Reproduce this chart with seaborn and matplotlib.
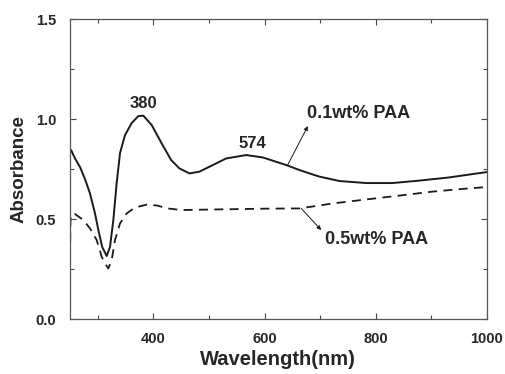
import matplotlib
matplotlib.use("Agg")
import matplotlib.pyplot as plt
import seaborn as sns
import pandas as pd
from matplotlib.ticker import MultipleLocator, FormatStrFormatter

# 0.1 wt% PAA (solid)
wl_01 = [250, 252, 259, 268, 277, 286, 295, 301, 308, 316, 322, 328, 334, 340, 349,
         361, 373, 382, 397, 415, 432, 447, 465, 483, 507, 531, 567, 597, 639, 663,
         681, 699, 714, 735, 783, 830, 878, 932, 1000]
abs_01 = [0.84, 0.845, 0.803, 0.76, 0.70, 0.628, 0.528, 0.445, 0.36, 0.315, 0.36,
          0.495, 0.68, 0.83, 0.92, 0.98, 1.015, 1.017, 0.97, 0.878, 0.795, 0.753,
          0.728, 0.737, 0.77, 0.803, 0.82, 0.808, 0.77, 0.745, 0.728, 0.712, 0.703,
          0.69, 0.68, 0.68, 0.692, 0.708, 0.735]

# 0.5 wt% PAA (dashed)
wl_05 = [250, 251, 259, 274, 286, 298, 307, 313, 319, 325, 331, 340, 352, 367, 388,
         406, 426, 450, 513, 603, 663, 723, 783, 842, 902, 962, 1000]
abs_05 = [0.31, 0.52, 0.525, 0.495, 0.453, 0.395, 0.312, 0.278, 0.253, 0.295, 0.395,
          0.478, 0.528, 0.558, 0.572, 0.568, 0.553, 0.545, 0.548, 0.552, 0.553, 0.578,
          0.598, 0.617, 0.637, 0.652, 0.66]

sns.set_style("ticks")
plt.rcParams["font.family"] = ["Liberation Sans", "DejaVu Sans"]
plt.rcParams["font.weight"] = "bold"

df1 = pd.DataFrame({"wl": wl_01, "A": abs_01})
df5 = pd.DataFrame({"wl": wl_05, "A": abs_05})

fig = plt.figure(figsize=(5.05, 3.74), dpi=100)
ax = fig.add_axes([0.1386, 0.147, 0.8254, 0.802])

sns.lineplot(data=df1, x="wl", y="A", ax=ax, color="#1a1a1a", linewidth=1.4)
sns.lineplot(data=df5, x="wl", y="A", ax=ax, color="#1a1a1a", linewidth=1.3,
             linestyle=(0, (5, 3.5)))

ax.set_xlim(250, 1000)
ax.set_ylim(0, 1.5)
ax.set_xticks([400, 600, 800, 1000])
ax.xaxis.set_minor_locator(MultipleLocator(100))
ax.yaxis.set_major_locator(MultipleLocator(0.5))
ax.yaxis.set_minor_locator(MultipleLocator(0.25))
ax.yaxis.set_major_formatter(FormatStrFormatter("%.1f"))
ax.tick_params(which="both", direction="in", top=True, right=True, color="#444444",
               labelsize=10.5, width=0.8)
ax.tick_params(which="major", length=4)
ax.tick_params(which="minor", length=3)
ax.tick_params(axis="y", pad=10)
ax.tick_params(axis="x", pad=9)
for s in ax.spines.values():
    s.set_color("#555555")
    s.set_linewidth(0.9)

ax.set_xlabel("Wavelength(nm)", fontsize=14.5, fontweight="bold", labelpad=3)
ax.set_ylabel("Absorbance", fontsize=13.5, fontweight="bold", labelpad=6)

ax.text(382, 1.04, "380", ha="center", va="bottom", fontsize=12, fontweight="bold")
ax.text(579, 0.84, "574", ha="center", va="bottom", fontsize=12, fontweight="bold")
ax.text(677, 1.03, "0.1wt% PAA", ha="left", va="center", fontsize=13, fontweight="bold")
ax.text(708, 0.40, "0.5wt% PAA", ha="left", va="center", fontsize=13, fontweight="bold")

ax.annotate("", xy=(678, 0.965), xytext=(642, 0.772),
            arrowprops=dict(arrowstyle="-|>", color="#1a1a1a", lw=0.7,
                            mutation_scale=6, shrinkA=0, shrinkB=0))
ax.annotate("", xy=(702, 0.445), xytext=(666, 0.553),
            arrowprops=dict(arrowstyle="-|>", color="#1a1a1a", lw=0.7,
                            mutation_scale=6, shrinkA=0, shrinkB=0))

fig.savefig("out.png", dpi=100)
